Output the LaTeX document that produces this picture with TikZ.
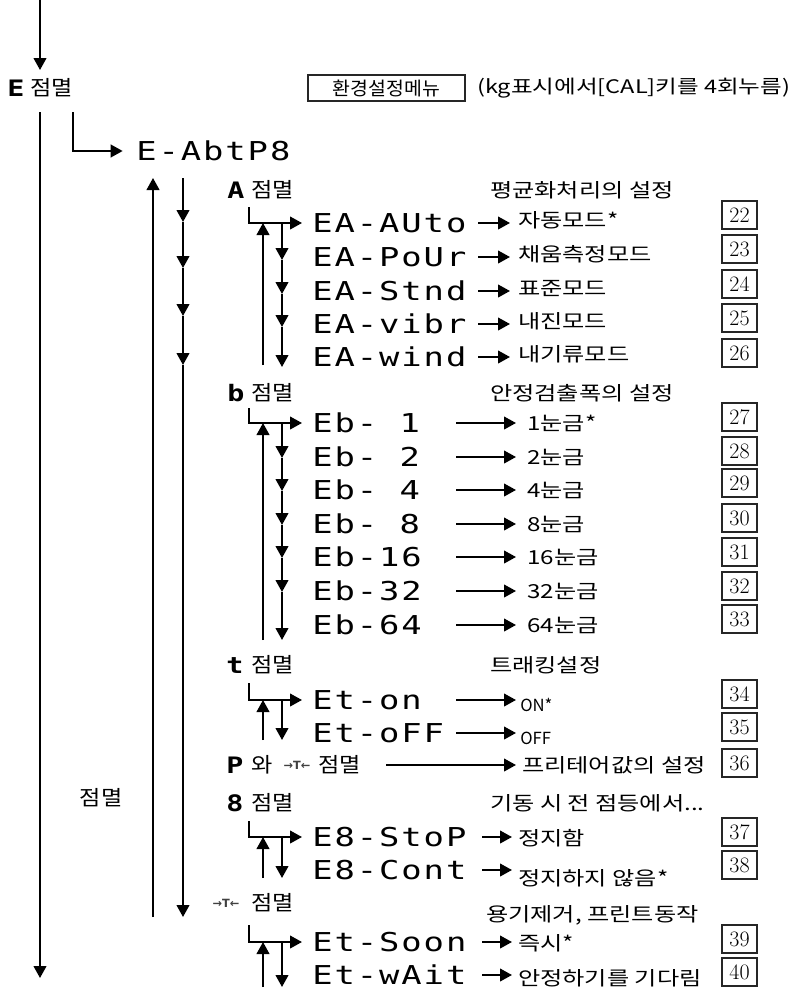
\documentclass[tikz,border=0pt]{standalone}
\usepackage{fontspec}
\usetikzlibrary{arrows.meta}
\newfontfamily\krfont[FakeStretch=1.12]{Noto Sans CJK KR}
\newfontfamily\krwidefont[FakeStretch=1.25]{Noto Sans CJK KR}
\newfontfamily\krparfont[FakeStretch=1.26]{Noto Sans CJK KR}
\newfontfamily\krmenufont[FakeStretch=1.04]{Noto Sans CJK KR}
\newfontfamily\krplainfont{Noto Sans CJK KR}
\newfontfamily\segfont[FakeStretch=1.3,LetterSpace=7.5]{DejaVu Sans Mono}
\newfontfamily\seggfont[FakeStretch=1.25]{DejaVu Sans Mono}
\newfontfamily\symfont{DejaVu Sans}
\tikzset{
  arr/.style={line width=1.5pt,-{Triangle[length=9pt,width=9.5pt]}},
  code/.style={font=\segfont\fontsize{19.5pt}{20pt}\selectfont,anchor=west,inner sep=0pt,text height=14.2pt,text depth=0pt},
  glyph/.style={font=\seggfont\bfseries\fontsize{17pt}{18pt}\selectfont,inner sep=0pt,text height=12.4pt,text depth=0pt},
  blink/.style={font=\krfont\fontsize{15.5pt}{16pt}\selectfont,anchor=west,inner sep=0pt},
  lab/.style={font=\krwidefont\fontsize{14.5pt}{15pt}\selectfont,anchor=west,inner sep=0pt},
  smalllab/.style={font=\krplainfont\fontsize{12.5pt}{13pt}\selectfont,anchor=west,inner sep=0pt},
  numbox/.style={draw=black!85,line width=0.8pt,minimum width=26.25pt,minimum height=21pt,inner sep=0pt,font=\fontsize{16.5pt}{17pt}\selectfont},
  tare/.style={font=\symfont\bfseries\fontsize{8.5pt}{9pt}\selectfont,text=black!75,inner sep=0pt},
}
\begin{document}
\begin{tikzpicture}[x=0.75pt,y=-0.75pt]
\useasboundingbox (0,0) rectangle (809,993);
% top
\coordinate (top0) at (40,0);
\coordinate (top1) at (40,70);
\draw[arr] (top0) -- (top1);
\node[glyph] (Eg) at (16,88) {E};
\node[blink] (Eb) at (30,88) {점멸};
\node[draw=black!85,line width=0.8pt,minimum width=117.75pt,minimum height=19.5pt,inner sep=0pt,font=\krmenufont\fontsize{14pt}{15pt}\selectfont] (menu) at (386.5,88) {환경설정메뉴};
\node[font=\krparfont\fontsize{14pt}{15pt}\selectfont,anchor=west,inner sep=0pt] (paren) at (477,88) {(kg표시에서[CAL]키를 4회누름)};
% main line
\coordinate (m0) at (40,112);
\coordinate (m1) at (40,978);
\draw[arr] (m0) -- (m1);
\node[blink,anchor=center] (leftblink) at (101,798) {점멸};
% hook 1
\coordinate (h1) at (73,112);
\node[code] (abt) at (136,151) {E-AbtP8};
\draw[arr,shorten >=10pt] (h1) |- (abt.west);
% level 2
\coordinate (U0) at (153,917);
\coordinate (U1) at (153,178);
\draw[arr] (U0) -- (U1);
\path (183,178) coordinate (B0) (183,222) coordinate (B1) (183,268) coordinate (B2)
      (183,316) coordinate (B3) (183,365) coordinate (B4) (183,917) coordinate (B5);
\foreach \a/\b in {B0/B1,B1/B2,B2/B3,B3/B4,B4/B5} \draw[arr] (\a) -- (\b);

% ---------- Section A
\node[glyph] (Ag) at (236,190) {A};
\node[blink] (Ab) at (251,190) {점멸};
\node[lab] (Ah) at (490,190) {평균화처리의 설정};
\foreach \y/\c/\l/\n/\b [count=\i] in {223/EA-AUto/자동모드*/22/215,257/EA-PoUr/채움측정모드/23/249,291/EA-Stnd/표준모드/24/284,324/EA-vibr/내진모드/25/318,357/EA-wind/내기류모드/26/353}{
  \node[code] (ac\i) at (312,\y) {\c};
  \coordinate (as\i) at (478,\y);
  \node[lab] (al\i) at (518,\y-3) {\l};
  \draw[arr,shorten >=6pt] (as\i) -- (as\i -| al\i.west);
  \node[numbox] (an\i) at (739.5,\b) {\n};
}
\coordinate (Ahk) at (249,207);
\draw[arr,shorten >=7.5pt] (Ahk) |- (ac1.west);
\coordinate (Au0) at (263,365);
\coordinate (Au1) at (263,223);
\draw[arr] (Au0) -- (Au1);
\path (282,223) coordinate (Ad0) (282,260) coordinate (Ad1) (282,294) coordinate (Ad2)
      (282,327) coordinate (Ad3) (282,367) coordinate (Ad4);
\foreach \a/\b in {Ad0/Ad1,Ad1/Ad2,Ad2/Ad3,Ad3/Ad4} \draw[arr] (\a) -- (\b);

% ---------- Section b
\node[glyph] (bg) at (236,393) {b};
\node[blink] (bb) at (251,393) {점멸};
\node[lab] (bh) at (490,393) {안정검출폭의 설정};
\foreach \y/\c/\l/\n/\b [count=\i] in {423/Eb-~1/1눈금*/27/417,457/Eb-~2/2눈금/28/451,490/Eb-~4/4눈금/29/483,524/Eb-~8/8눈금/30/518,557/Eb-16/16눈금/31/552,591/Eb-32/32눈금/32/586,625/Eb-64/64눈금/33/619}{
  \node[code] (bc\i) at (312,\y) {\c};
  \coordinate (bs\i) at (456,\y);
  \node[lab] (bl\i) at (527,\y) {\l};
  \draw[arr,shorten >=8.25pt] (bs\i) -- (bs\i -| bl\i.west);
  \node[numbox] (bn\i) at (739.5,\b) {\n};
}
\coordinate (bhk) at (249,408);
\draw[arr,shorten >=7.5pt] (bhk) |- (bc1.west);
\coordinate (bu0) at (263,640);
\coordinate (bu1) at (263,423);
\draw[arr] (bu0) -- (bu1);
\path (282,423) coordinate (bd0) (282,458) coordinate (bd1) (282,491) coordinate (bd2)
      (282,525) coordinate (bd3) (282,558) coordinate (bd4) (282,592) coordinate (bd5)
      (282,640) coordinate (bd6);
\foreach \a/\b in {bd0/bd1,bd1/bd2,bd2/bd3,bd3/bd4,bd4/bd5,bd5/bd6} \draw[arr] (\a) -- (\b);

% ---------- Section t
\node[glyph] (tg) at (235,665) {t};
\node[blink] (tb) at (251,665) {점멸};
\node[lab] (th) at (490,665) {트래킹설정};
\foreach \y/\c/\l/\n/\b [count=\i] in {700/Et-on/ON*/34/694,733/Et-oFF/OFF/35/727}{
  \node[code] (tc\i) at (312,\y) {\c};
  \coordinate (ts\i) at (456,\y);
  \node[smalllab] (tl\i) at (520,\y+5) {\l};
  \draw[arr,shorten >=3pt] (ts\i) -- (ts\i -| tl\i.west);
  \node[numbox] (tn\i) at (739.5,\b) {\n};
}
\coordinate (thk) at (249,683);
\draw[arr,shorten >=7.5pt] (thk) |- (tc1.west);
\coordinate (tu0) at (263,740);
\coordinate (tu1) at (263,700);
\draw[arr] (tu0) -- (tu1);
\coordinate (td0) at (282,700);
\coordinate (td1) at (282,740);
\draw[arr] (td0) -- (td1);

% ---------- P row
\node[glyph] (Pg) at (235,765) {P};
\node[blink] (Pw) at (251,765) {와};
\node[tare] (Pt) at (297,765) {→T←};
\node[blink] (Pb) at (318,765) {점멸};
\coordinate (Ps) at (386,765);
\node[lab] (Pl) at (522,765) {프리테어값의 설정};
\draw[arr,shorten >=4.5pt] (Ps) -- (Ps -| Pl.west);
\node[numbox] (Pn) at (739.5,763) {36};

% ---------- Section 8
\node[glyph] (eg) at (235,803) {8};
\node[blink] (eb) at (251,803) {점멸};
\node[lab] (eh) at (490,803) {기동 시 전 점등에서...};
\foreach \y/\c/\l/\n/\b/\o [count=\i] in {837/E8-StoP/정지함/37/832/1,870/E8-Cont/정지하지 않음*/38/865/8}{
  \node[code] (ec\i) at (312,\y) {\c};
  \coordinate (es\i) at (482,\y);
  \node[lab] (el\i) at (518,\y+\o) {\l};
  \draw[arr,shorten >=4.5pt] (es\i) -- (es\i -| el\i.west);
  \node[numbox] (en\i) at (739.5,\b) {\n};
}
\coordinate (ehk) at (249,821);
\draw[arr,shorten >=7.5pt] (ehk) |- (ec1.west);
\coordinate (eu0) at (263,878);
\coordinate (eu1) at (263,837);
\draw[arr] (eu0) -- (eu1);
\coordinate (ed0) at (282,837);
\coordinate (ed1) at (282,878);
\draw[arr] (ed0) -- (ed1);

% ---------- Section T
\node[tare] (Tg) at (226,903) {→T←};
\node[blink] (Tb) at (251,903) {점멸};
\node[lab] (Th) at (486,915) {용기제거, 프린트동작};
\foreach \y/\c/\l/\n/\b/\o [count=\i] in {942/Et-Soon/즉시*/39/939/1,975/Et-wAit/안정하기를 기다림/40/972/3}{
  \node[code] (Tc\i) at (312,\y) {\c};
  \coordinate (Ts\i) at (482,\y);
  \node[lab] (Tl\i) at (518,\y+\o) {\l};
  \draw[arr,shorten >=4.5pt] (Ts\i) -- (Ts\i -| Tl\i.west);
  \node[numbox] (Tn\i) at (739.5,\b) {\n};
}
\coordinate (Thk) at (249,925);
\draw[arr,shorten >=7.5pt] (Thk) |- (Tc1.west);
\coordinate (Tu0) at (263,987);
\coordinate (Tu1) at (263,942);
\draw[arr] (Tu0) -- (Tu1);
\coordinate (Td0) at (282,942);
\coordinate (Td1) at (282,987);
\draw[arr] (Td0) -- (Td1);
\end{tikzpicture}
\end{document}
